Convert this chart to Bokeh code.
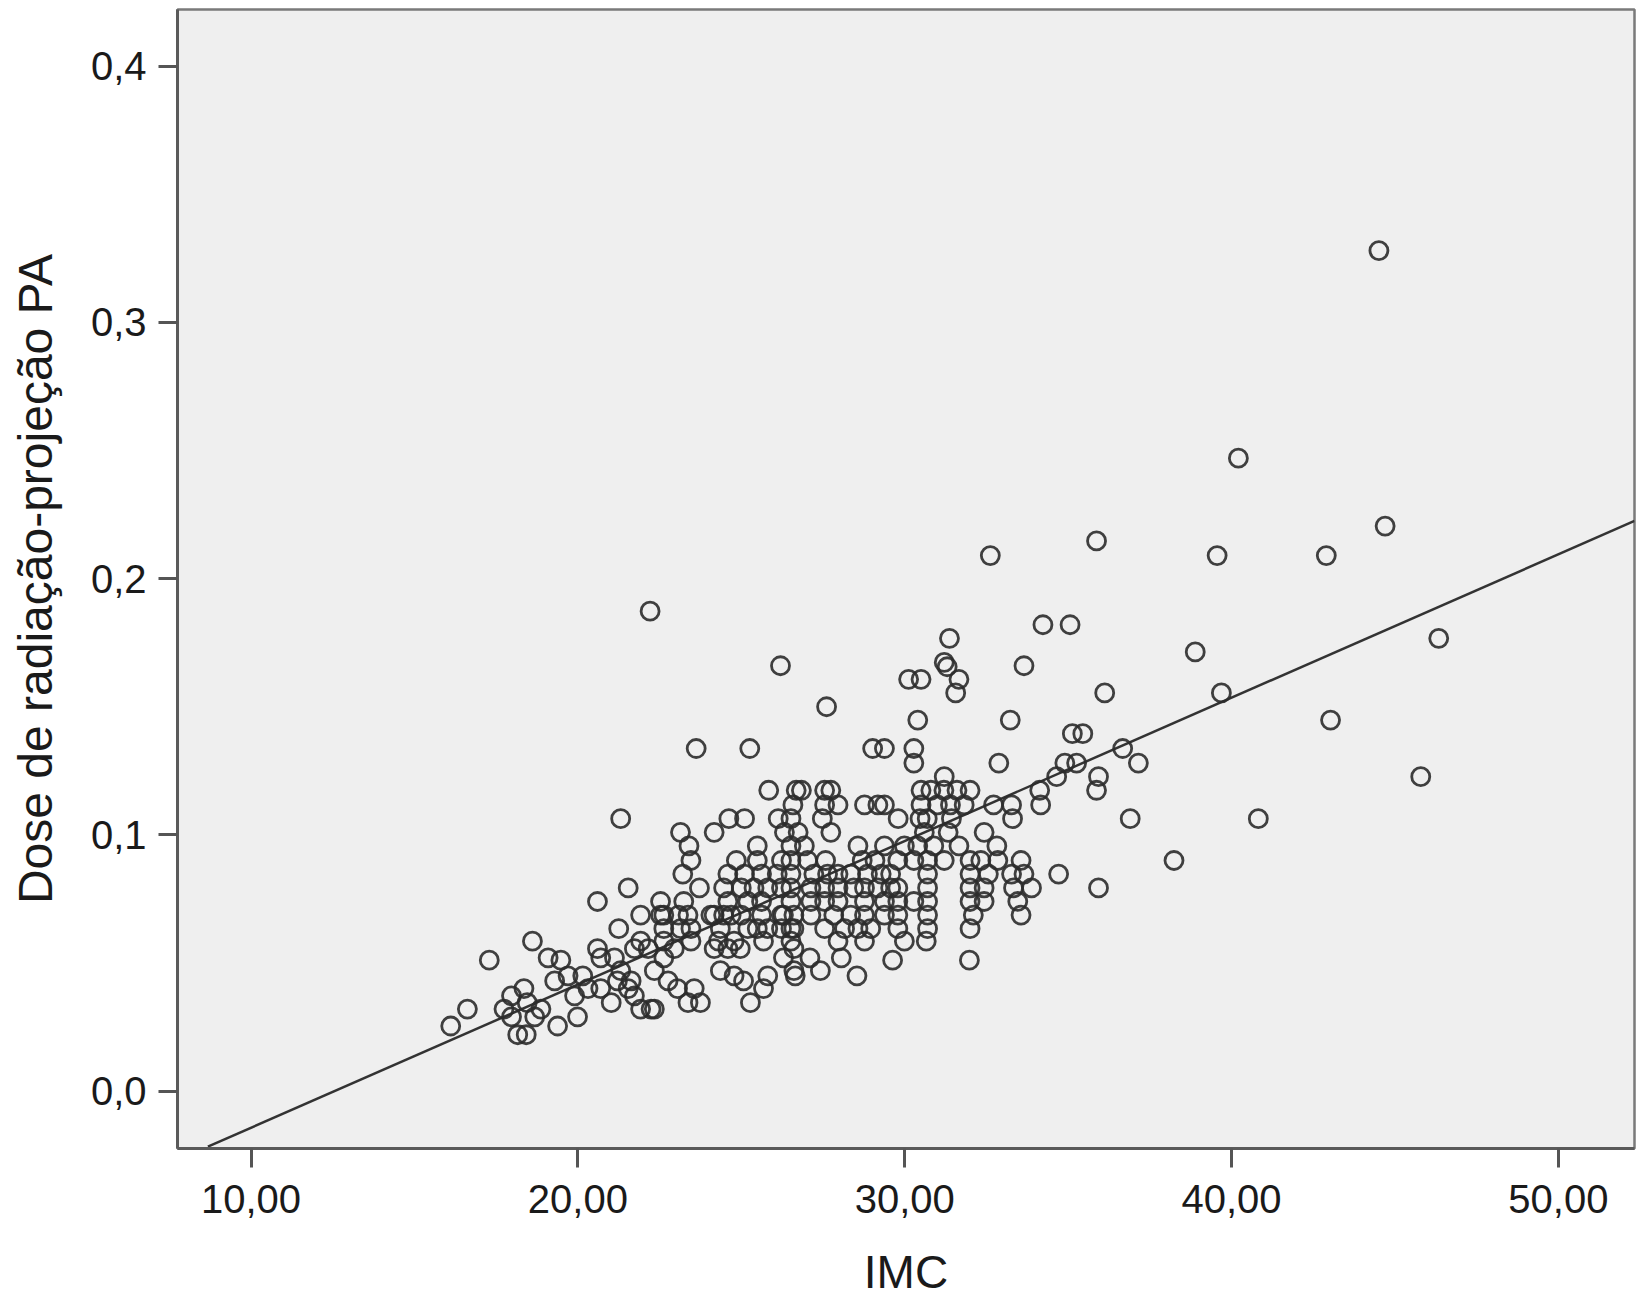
from bokeh.plotting import figure
from bokeh.models import Range1d, FixedTicker, ColumnDataSource
from bokeh.embed import file_html
from bokeh.resources import INLINE

# ---- data ----
x_ticks = [10, 20, 30, 40, 50]
x_tick_labels = ["10,00", "20,00", "30,00", "40,00", "50,00"]
y_ticks = [0.0, 0.1, 0.2, 0.3, 0.4]
y_tick_labels = ["0,0", "0,1", "0,2", "0,3", "0,4"]

# isolated points (IMC, dose)
imc_outer = [44.51, 40.21, 44.70, 32.62, 35.87, 39.56, 42.90, 22.21, 34.23, 35.06,
             31.37, 46.34, 38.89, 26.20, 33.65, 31.21, 31.30, 30.12, 30.50, 31.66,
             31.56, 36.12, 39.69, 27.61, 30.40, 33.23, 43.03, 23.62, 25.26, 29.02,
             29.38, 30.28, 35.13, 35.45, 36.67, 37.15, 32.88, 30.28, 34.90, 35.26,
             34.65, 45.79, 35.93]
dose_outer = [0.328, 0.247, 0.2205, 0.209, 0.2147, 0.209, 0.209, 0.1873, 0.182, 0.182,
              0.1767, 0.1767, 0.1714, 0.166, 0.166, 0.1673, 0.1656, 0.1607, 0.1607, 0.1607,
              0.1554, 0.1554, 0.1554, 0.150, 0.1448, 0.1448, 0.1448, 0.1337, 0.1337, 0.1337,
              0.1337, 0.1337, 0.1395, 0.1395, 0.1337, 0.128, 0.128, 0.128, 0.128, 0.128,
              0.1227, 0.1227, 0.1227]

# dense cluster, read row by row (dose level -> IMC values on that row)
cluster_levels = [0.1227, 0.1174, 0.1117, 0.1063, 0.1010, 0.0957, 0.0900, 0.0847,
                  0.0793, 0.0740, 0.0687, 0.0634, 0.0585, 0.0556, 0.0520, 0.0511,
                  0.0470, 0.0450, 0.0430, 0.0400, 0.0372, 0.0345, 0.0320, 0.0290,
                  0.0254, 0.0220]
cluster_imc = [
    [31.21],
    [25.84, 26.68, 26.84, 27.55, 27.74, 30.5, 30.8, 31.2, 31.6, 32.0, 34.13, 35.87],
    [26.58, 27.55, 27.96, 28.77, 29.18, 29.38, 30.5, 31.0, 31.4, 31.82, 32.72, 33.27, 34.16],
    [21.31, 24.62, 25.10, 26.13, 26.52, 27.48, 29.80, 30.47, 30.69, 31.43, 33.3, 36.90, 40.82],
    [23.14, 24.17, 26.32, 26.74, 27.74, 30.6, 31.33, 32.43],
    [23.40, 25.49, 26.52, 26.93, 28.57, 29.38, 29.99, 30.4, 30.89, 31.66, 32.82],
    [23.46, 24.85, 25.49, 26.23, 26.52, 27.03, 27.58, 28.70, 29.09, 29.79, 30.28, 30.7,
     31.21, 32.0, 32.33, 32.85, 33.56, 38.24],
    [23.21, 24.59, 25.10, 25.62, 26.10, 26.52, 27.22, 27.64, 27.96, 28.35, 28.86, 29.28,
     29.57, 30.7, 32.0, 32.56, 33.27, 33.65, 34.71],
    [21.54, 23.72, 24.46, 25.0, 25.39, 25.81, 26.23, 26.52, 27.13, 27.55, 27.96, 28.44,
     28.77, 29.18, 29.57, 29.79, 30.7, 32.0, 32.43, 33.33, 33.88, 35.93],
    [20.60, 22.53, 23.24, 24.59, 25.2, 25.62, 26.52, 27.13, 27.55, 27.96, 28.77, 29.38,
     29.79, 30.28, 30.7, 32.0, 32.43, 33.46],
    [21.92, 22.53, 22.63, 23.08, 23.37, 24.07, 24.17, 24.46, 24.69, 25.0, 25.62, 26.23,
     26.29, 26.61, 27.13, 27.83, 28.35, 28.77, 29.38, 29.79, 30.7, 32.1, 33.56],
    [21.25, 22.63, 23.14, 23.46, 24.36, 25.20, 25.49, 25.81, 26.23, 26.52, 26.61, 27.55,
     28.16, 28.57, 28.96, 29.79, 30.7, 32.0],
    [18.61, 21.92, 22.63, 23.46, 24.3, 24.78, 25.68, 26.52, 27.96, 28.77, 29.99, 30.66],
    [20.60, 21.73, 22.15, 22.95, 24.17, 24.59, 24.97, 26.61],
    [19.09, 20.70, 21.12, 22.63, 26.29, 27.10, 28.06],
    [17.29, 19.48, 29.63, 31.98],
    [21.31, 22.34, 24.36, 26.61, 27.42],
    [19.70, 20.15, 24.78, 25.81, 28.54, 26.65],
    [19.29, 21.63, 21.21, 22.76, 25.07],
    [18.35, 20.31, 20.70, 21.54, 23.05, 23.56, 25.68],
    [17.97, 19.90, 21.73],
    [18.45, 21.02, 23.37, 23.75, 25.28],
    [16.62, 17.74, 18.87, 21.92, 22.34, 22.24],
    [17.97, 18.68, 19.99],
    [16.11, 19.38],
    [18.16, 18.42],
]

# fitted line end points
fit_imc = [8.68, 52.33]
fit_dose = [-0.0217, 0.2225]

imc = list(imc_outer)
dose = list(dose_outer)
for level, row in zip(cluster_levels, cluster_imc):
    imc.extend(row)
    dose.extend([level] * len(row))

src = ColumnDataSource(data=dict(imc=imc, dose=dose))

p = figure(width=1641, height=1300,
           x_range=Range1d(7.75, 52.33), y_range=Range1d(-0.0224, 0.4221),
           output_backend="svg", toolbar_location=None,
           min_border_left=177, min_border_right=7,
           min_border_top=9, min_border_bottom=151)
p.background_fill_color = "#efefef"
p.border_fill_color = "white"
p.outline_line_color = "#7a7a7a"
p.outline_line_width = 2.5
p.grid.visible = False

p.line(fit_imc, fit_dose, line_color="#333333", line_width=2.5)
p.scatter("imc", "dose", source=src, marker="circle", size=18,
          fill_color=None, line_color="#2b2b2b", line_width=2.8, line_alpha=0.9)

for ax, ticks, labels in ((p.xaxis[0], x_ticks, x_tick_labels),
                          (p.yaxis[0], y_ticks, y_tick_labels)):
    ax.ticker = FixedTicker(ticks=ticks)
    ax.major_label_overrides = {t: l for t, l in zip(ticks, labels)}
    ax.axis_line_color = "#5a5a5a"
    ax.axis_line_width = 3
    ax.major_tick_out = 19
    ax.major_tick_in = 0
    ax.major_tick_line_width = 3
    ax.major_tick_line_color = "#555555"
    ax.minor_tick_out = 0
    ax.minor_tick_in = 0
    ax.major_label_text_font = "Liberation Sans"
    ax.major_label_text_font_size = "40px"
    ax.major_label_text_color = "#1a1a1a"
    ax.axis_label_text_font = "Liberation Sans"
    ax.axis_label_text_font_style = "normal"
    ax.axis_label_text_color = "#1a1a1a"

p.xaxis.major_label_standoff = 17
p.yaxis.major_label_standoff = 12
p.xaxis.axis_label = "IMC"
p.xaxis.axis_label_text_font_size = "46px"
p.xaxis.axis_label_standoff = 30
p.yaxis.axis_label = "Dose de radiação-projeção PA"
p.yaxis.axis_label_text_font_size = "48px"
p.yaxis.axis_label_standoff = 26

open("out.html", "w").write(file_html(p, INLINE))
